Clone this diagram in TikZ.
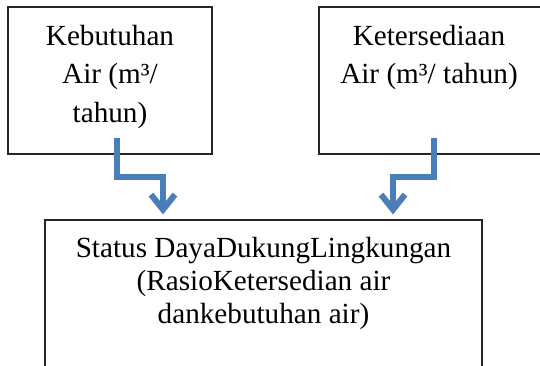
\documentclass[tikz,border=0pt]{standalone}
\usepackage{fontspec}
\setmainfont{Liberation Serif}
\usetikzlibrary{positioning,arrows.meta}
\definecolor{flowblue}{RGB}{74,126,187}
\tikzset{
  box/.style={draw=black!85,line width=0.6pt,inner sep=0pt},
  boxtext/.style={align=center,inner sep=0pt,font=\fontsize{14.6}{19.3}\selectfont},
  flow/.style={draw=flowblue,line width=3pt,
    -{Straight Barb[length=7.5pt,width=12pt]},shorten >=2.5pt}
}

\begin{document}
\begin{tikzpicture}[x=0.5pt,y=-0.5pt]
  \clip (0,0) rectangle (540,365);
  % boxes
  \node[box,minimum width=102pt,minimum height=73.5pt] (kebutuhan) at (110,80.5) {};
  \node[box,minimum width=115pt,minimum height=73.5pt] (ketersediaan) at (434,80.5) {};
  \node[box,minimum width=218.5pt,minimum height=90pt] (status) at (263.5,310) {};
  \node[boxtext,below=9pt of kebutuhan.north] (kebutuhantext) {Kebutuhan\\Air (m³/\\tahun)};
  \node[boxtext,below=9pt of ketersediaan.north,xshift=-2.5pt] (ketersediaantext) {Ketersediaan\\Air (m³/ tahun)};
  \node[boxtext,below=8.5pt of status.north,font=\fontsize{14.6}{16.7}\selectfont] (statustext)
    {Status DayaDukungLingkungan\\(RasioKetersedian air\\dankebutuhan air)};
  % arrows
  \coordinate (kebutuhanout) at (117,138);
  \coordinate (kebutuhanturn) at (163,177);
  \coordinate (ketersediaanout) at (434,138);
  \coordinate (ketersediaanturn) at (393,177);
  \draw[flow] (kebutuhanout) |- (kebutuhanturn) -- (kebutuhanturn |- status.north);
  \draw[flow] (ketersediaanout) |- (ketersediaanturn) -- (ketersediaanturn |- status.north);
\end{tikzpicture}
\end{document}
